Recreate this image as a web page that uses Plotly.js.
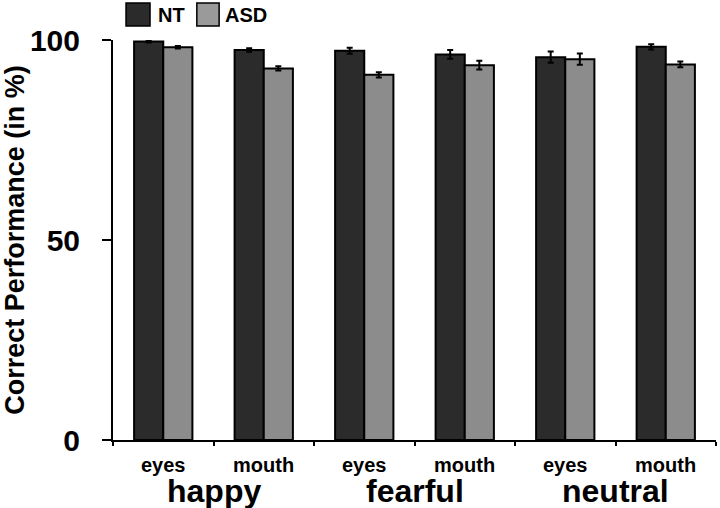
<!DOCTYPE html>
<html><head><meta charset="utf-8">
<script src="https://cdn.plot.ly/plotly-3.0.1.min.js"></script>
<style>html,body{margin:0;padding:0;background:#fff}#chart{width:720px;height:508px}</style>
</head><body><div id="chart"></div>
<script>
const emotions = ["happy", "fearful", "neutral"];
const regions = ["eyes", "mouth", "eyes", "mouth", "eyes", "mouth"];
const ntValues = [99.6, 97.5, 97.3, 96.4, 95.7, 98.3];
const ntErrors = [0.25, 0.45, 0.75, 1.1, 1.4, 0.65];
const asdValues = [98.2, 92.9, 91.3, 93.7, 95.2, 93.9];
const asdErrors = [0.3, 0.55, 0.65, 1.1, 1.4, 0.7];
const yTicks = [0, 50, 100];
const groups = ["NT", "ASD"];
const groupColors = ["#2b2b2b", "#8c8c8c"];

const pos = regions.map((_, i) => i);
const boundaries = [-0.5].concat(pos.map(p => p + 0.5));
const FONT = "Liberation Sans, Arial, sans-serif";

const traces = [
  {type: "bar", name: groups[0], x: pos, y: ntValues, showlegend: false,
   marker: {color: groupColors[0], line: {color: "#000", width: 2}},
   error_y: {type: "data", array: ntErrors, visible: true, color: "#000", thickness: 2, width: 3}},
  {type: "bar", name: groups[1], x: pos, y: asdValues, showlegend: false,
   marker: {color: groupColors[1], line: {color: "#000", width: 2}},
   error_y: {type: "data", array: asdErrors, visible: true, color: "#000", thickness: 2, width: 3}}
];

const annotations = [];
regions.forEach((r, i) => annotations.push({
  x: pos[i], y: 0, xref: "x", yref: "paper", yanchor: "top", yshift: -12,
  text: r, showarrow: false, font: {family: FONT, size: 20, weight: "bold", color: "#000"}
}));
emotions.forEach((e, k) => annotations.push({
  x: 2 * k + 0.5, y: 0, xref: "x", yref: "paper", yanchor: "top", yshift: -31,
  text: e, showarrow: false, font: {family: FONT, size: 32, weight: "bold", color: "#000"}
}));

// custom legend (large swatches like the reference)
const legendX = [[0.0216, 0.0614, 0.071], [0.139, 0.176, 0.182]];
const shapes = [];
groups.forEach((g, i) => {
  shapes.push({type: "rect", xref: "paper", yref: "paper",
    x0: legendX[i][0], x1: legendX[i][1], y0: 1.035, y1: 1.0925,
    fillcolor: i === 0 ? groupColors[0] : "#9a9a9a", line: {color: "#000", width: 1.5}});
  annotations.push({xref: "paper", yref: "paper", x: legendX[i][2], y: 1.0625,
    xanchor: "left", yanchor: "middle", text: g, showarrow: false,
    font: {family: FONT, size: 20, weight: "bold", color: "#000"}});
});

const layout = {
  width: 720, height: 508,
  margin: {l: 113, r: 4, t: 40, b: 68},
  paper_bgcolor: "#fff", plot_bgcolor: "#fff",
  barmode: "group", bargap: 0.42, bargroupgap: 0,
  font: {family: FONT, color: "#000"},
  showlegend: false,
  xaxis: {range: [-0.5, 5.5], tickmode: "array", tickvals: boundaries, ticktext: boundaries.map(() => ""),
          ticks: "outside", ticklen: 4, tickwidth: 2, tickcolor: "#000",
          showline: true, linecolor: "#000", linewidth: 2, showgrid: false, zeroline: false, fixedrange: true},
  yaxis: {range: [0, 100], tickmode: "array", tickvals: yTicks,
          ticks: "outside", ticklen: 9, tickwidth: 2, tickcolor: "#000", ticklabelstandoff: 16,
          tickfont: {family: FONT, size: 30, weight: "bold", color: "#000"},
          showline: true, linecolor: "#000", linewidth: 2, showgrid: false, zeroline: false,
          title: {text: "Correct Performance (in %)", standoff: 5,
                  font: {family: FONT, size: 27, weight: "bold", color: "#000"}}},
  shapes: shapes,
  annotations: annotations
};
Plotly.newPlot("chart", traces, layout, {staticPlot: true, displayModeBar: false});
</script></body></html>
